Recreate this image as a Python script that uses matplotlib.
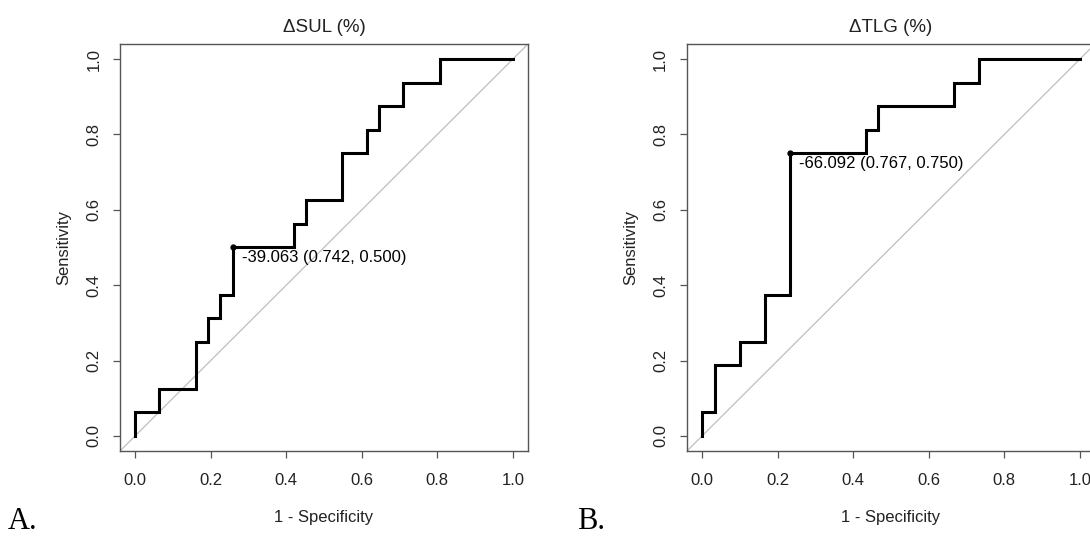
import matplotlib
matplotlib.use("Agg")
import matplotlib.pyplot as plt

plt.rcParams['font.family'] = ['Liberation Sans', 'DejaVu Sans']

# ROC corner points (1 - specificity, sensitivity)
sul_fpr = [0, 0, 0.0645, 0.1613, 0.1935, 0.2258, 0.2581, 0.4194, 0.4516, 0.5484, 0.6129, 0.6452, 0.7097, 0.8065, 1.0]
sul_tpr = [0, 0.0625, 0.125, 0.25, 0.3125, 0.375, 0.5, 0.5625, 0.625, 0.75, 0.8125, 0.875, 0.9375, 1.0, 1.0]

tlg_fpr = [0, 0, 0.0333, 0.1, 0.1667, 0.2333, 0.4333, 0.4667, 0.6667, 0.7333, 1.0]
tlg_tpr = [0, 0.0625, 0.1875, 0.25, 0.375, 0.75, 0.8125, 0.875, 0.9375, 1.0, 1.0]

# best thresholds: (1 - specificity, sensitivity, label)
sul_best = (0.2581, 0.5, "-39.063 (0.742, 0.500)")
tlg_best = (0.2333, 0.75, "-66.092 (0.767, 0.750)")

titles = ["\u0394SUL (%)", "\u0394TLG (%)"]
panel_tags = ["A.", "B."]
ticks = [0.0, 0.2, 0.4, 0.6, 0.8, 1.0]
tick_labels = ["0.0", "0.2", "0.4", "0.6", "0.8", "1.0"]

W, H = 1090, 536
fig = plt.figure(figsize=(W / 100, H / 100), dpi=100)

# axes boxes in pixels: left, top, right, bottom
boxes = [(120, 44, 528, 451), (687, 44, 1095, 451)]
tag_x = [8, 577]

curves = [(sul_fpr, sul_tpr, sul_best), (tlg_fpr, tlg_tpr, tlg_best)]
edge = "#555555"

for i, (fpr, tpr, best) in enumerate(curves):
    l, t, r, b = boxes[i]
    ax = fig.add_axes([l / W, 1 - b / H, (r - l) / W, (b - t) / H])
    ax.set_xlim(-0.04, 1.04)
    ax.set_ylim(-0.04, 1.04)

    ax.axline((0, 0), (1, 1), color="#BEBEBE", lw=0.9, zorder=1)
    ax.plot(fpr, tpr, drawstyle="steps-post", color="black", lw=2.2,
            solid_joinstyle="miter", zorder=3)
    ax.plot(best[0], best[1], "o", color="black", ms=3.5, zorder=4)
    ax.annotate(best[2], (best[0], best[1]), xytext=(6.5, -2), textcoords="offset points",
                ha="left", va="top", fontsize=12)

    for s in ax.spines.values():
        s.set_color(edge)
        s.set_linewidth(1.0)

    ax.set_xticks(ticks)
    ax.set_xticklabels(tick_labels)
    ax.set_yticks(ticks)
    ax.set_yticklabels(tick_labels, rotation=90, va="center")
    ax.tick_params(direction="out", length=5, width=0.9, color=edge,
                   labelsize=12, labelcolor="#222222")
    ax.tick_params(axis="x", pad=11)
    ax.tick_params(axis="y", pad=8.5)

    ax.set_xlabel("1 - Specificity", fontsize=12, color="#222222")
    ax.xaxis.set_label_coords(0.5, -0.145)
    ax.set_ylabel("Sensitivity", fontsize=12, color="#222222")
    ax.yaxis.set_label_coords(-0.119, 0.5)
    ax.set_title(titles[i], fontsize=13.5, pad=8.9, color="#222222")

    fig.text(tag_x[i] / W, 1 - 529 / H, panel_tags[i], family="Liberation Serif",
             fontsize=22, ha="left", va="baseline", color="black")

fig.savefig("out.png", dpi=100)
